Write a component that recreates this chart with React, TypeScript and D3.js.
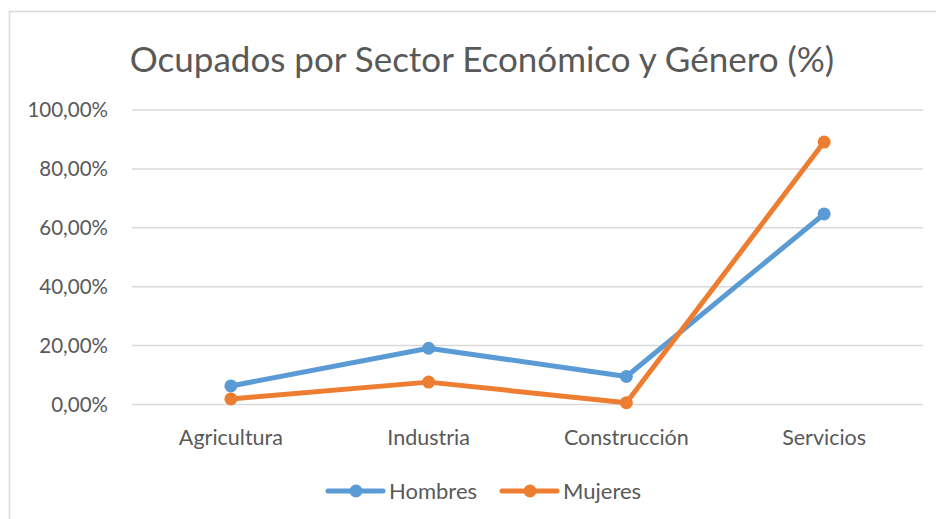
import React from "react";
import * as d3 from "d3";

const categories = ["Agricultura", "Industria", "Construcción", "Servicios"];
const hombres = [6.3, 19.1, 9.5, 64.7];
const mujeres = [1.9, 7.6, 0.6, 89.1];
const yTicks = [0, 20, 40, 60, 80, 100];

const series = [
  { name: "Hombres", values: hombres, color: "#5B9BD5" },
  { name: "Mujeres", values: mujeres, color: "#ED7D31" },
];

const App = () => {
  const svgRef = React.useRef<SVGSVGElement>(null);

  React.useEffect(() => {
    const svg = d3.select(svgRef.current);
    svg.selectAll("*").remove();
    const font = "Lato, 'Open Sans', sans-serif";
    const textColor = "#595959";

    const left = 132;
    const right = 923;
    const top = 110;
    const bottom = 404.5;

    // chart frame
    svg
      .append("rect")
      .attr("x", 9.5)
      .attr("y", 11.5)
      .attr("width", 1000)
      .attr("height", 600)
      .attr("fill", "white")
      .attr("stroke", "#D9D9D9")
      .attr("stroke-width", 1.5);

    svg
      .append("text")
      .attr("x", 482)
      .attr("y", 72)
      .attr("text-anchor", "middle")
      .attr("font-family", font)
      .attr("font-size", 35)
      .attr("fill", textColor)
      .text("Ocupados por Sector Económico y Género (%)");

    const x = d3.scaleBand().domain(categories).range([left, right]);
    const y = d3.scaleLinear().domain([0, 100]).range([bottom, top]);

    const g = svg.append("g");

    g.selectAll(".grid")
      .data(yTicks)
      .enter()
      .append("line")
      .attr("x1", left)
      .attr("x2", right)
      .attr("y1", (d) => y(d))
      .attr("y2", (d) => y(d))
      .attr("stroke", "#D9D9D9")
      .attr("stroke-width", 1.5);

    g.selectAll(".ytick")
      .data(yTicks)
      .enter()
      .append("text")
      .attr("x", 108)
      .attr("y", (d) => y(d))
      .attr("dy", "0.35em")
      .attr("text-anchor", "end")
      .attr("font-family", font)
      .attr("font-size", 20.5)
      .attr("fill", textColor)
      .text((d) => d.toFixed(2).replace(".", ",") + "%");

    g.selectAll(".xtick")
      .data(categories)
      .enter()
      .append("text")
      .attr("x", (d) => x(d)! + x.bandwidth() / 2)
      .attr("y", 445)
      .attr("text-anchor", "middle")
      .attr("font-family", font)
      .attr("font-size", 21.5)
      .attr("fill", textColor)
      .text((d) => d);

    const line = d3
      .line<number>()
      .x((_, i) => x(categories[i])! + x.bandwidth() / 2)
      .y((d) => y(d));

    series.forEach((s) => {
      g.append("path")
        .attr("d", line(s.values))
        .attr("fill", "none")
        .attr("stroke", s.color)
        .attr("stroke-width", 5)
        .attr("stroke-linejoin", "round")
        .attr("stroke-linecap", "round");

      g.selectAll(null)
        .data(s.values)
        .enter()
        .append("circle")
        .attr("cx", (_, i) => x(categories[i])! + x.bandwidth() / 2)
        .attr("cy", (d) => y(d))
        .attr("r", 6.5)
        .attr("fill", s.color);
    });

    // legend
    const legendX = [328, 502];
    series.forEach((s, i) => {
      const lg = svg.append("g").attr("transform", `translate(${legendX[i]}, 491)`);
      lg.append("line")
        .attr("x1", 0)
        .attr("x2", 55)
        .attr("stroke", s.color)
        .attr("stroke-width", 5)
        .attr("stroke-linecap", "round");
      lg.append("circle").attr("cx", 28).attr("r", 6.5).attr("fill", s.color);
      lg.append("text")
        .attr("x", 61)
        .attr("y", 0)
        .attr("dy", "0.35em")
        .attr("font-family", font)
        .attr("font-size", 22)
        .attr("fill", textColor)
        .text(s.name);
    });
  }, []);

  return (
    <svg
      ref={svgRef}
      width={936}
      height={519}
      style={{ position: "absolute", left: 0, top: 0 }}
    ></svg>
  );
};

export default App;
